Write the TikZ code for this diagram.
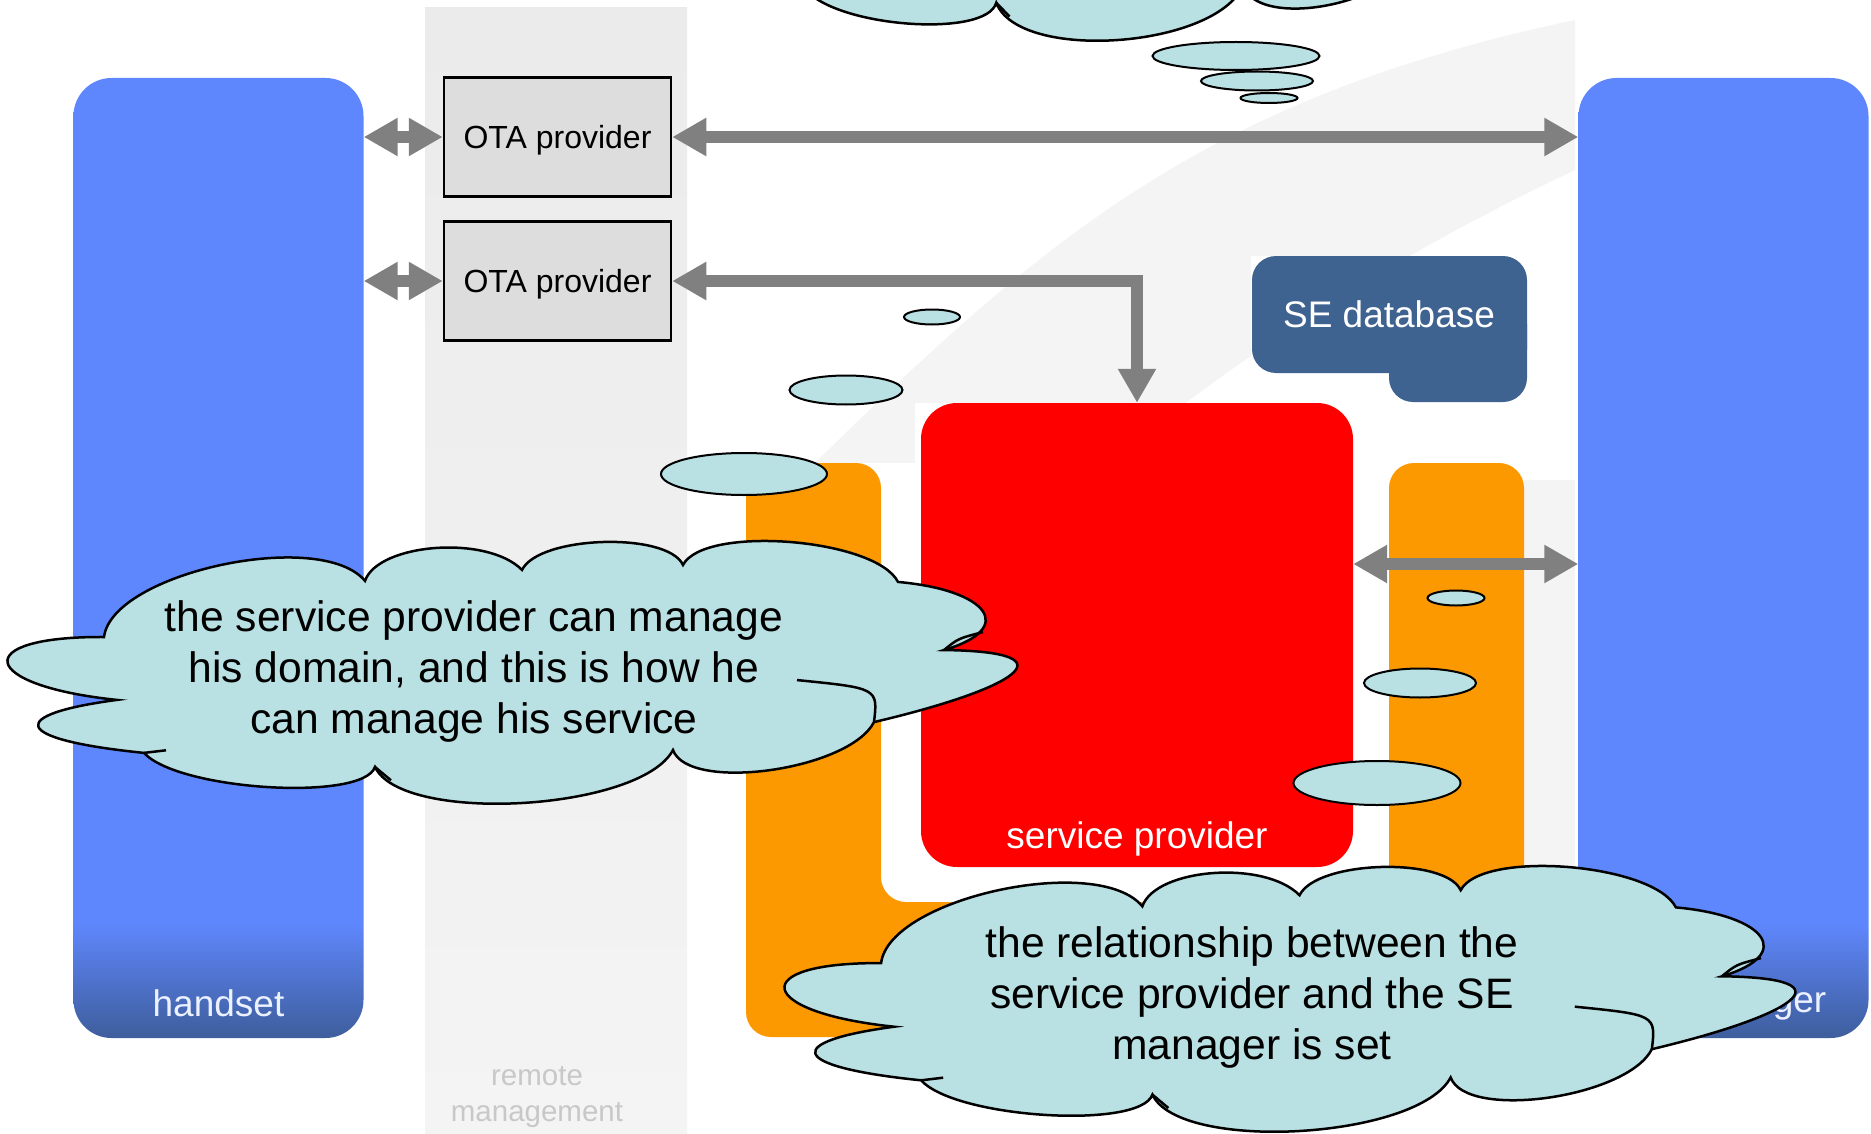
\documentclass[tikz,border=0pt]{standalone}
\usepackage{fontspec}
\setmainfont{Liberation Sans}
\usetikzlibrary{arrows.meta,shapes.geometric}
\definecolor{hsblue}{HTML}{5F87FD}
\definecolor{hsdark}{HTML}{3E5E9C}
\definecolor{remotetop}{HTML}{EBEBEB}
\definecolor{remotebot}{HTML}{F4F4F4}
\definecolor{remotetext}{HTML}{C8C8C8}
\definecolor{otagrey}{HTML}{DDDDDD}
\definecolor{arrowgrey}{HTML}{808080}
\definecolor{spred}{HTML}{FF0000}
\definecolor{sporange}{HTML}{FD9900}
\definecolor{dbblue}{HTML}{3F6391}
\definecolor{cloudfill}{HTML}{B9E0E3}
\definecolor{bgstripe}{HTML}{F4F4F4}
\pgfdeclareverticalshading{barfade}{100bp}{color(0bp)=(hsdark); color(25bp)=(hsdark); color(31bp)=(hsblue); color(100bp)=(hsblue)}
% cloud outline in a unit box (y down), puffs and inner creases
\newcommand{\cloudoutline}{(0.096,0.364)
  .. controls (0.1041,0.1178) and (0.3129,-0.0542) .. (0.357,0.149)
  .. controls (0.37,0.005) and (0.479,-0.0288) .. (0.514,0.107)
  .. controls (0.5308,-0.0249) and (0.6596,-0.0401) .. (0.675,0.088)
  .. controls (0.6958,-0.0662) and (0.8678,-0.0142) .. (0.890,0.153)
  .. controls (0.9799,0.1838) and (1.01,0.33) .. (0.936,0.414)
  .. controls (1.07,0.42) and (1.005,0.5651) .. (0.866,0.690)
  .. controls (0.8412,0.8747) and (0.6804,0.9603) .. (0.665,0.797)
  .. controls (0.6325,1.0308) and (0.3941,1.0828) .. (0.367,0.862)
  .. controls (0.3552,0.9953) and (0.1704,0.9521) .. (0.136,0.808)
  .. controls (-0.0007,0.755) and (0.0,0.66) .. (0.109,0.605)
  .. controls (-0.03,0.55) and (-0.0394,0.3608) .. (0.096,0.364) -- cycle}
\newcommand{\cloudcreases}{(0.936,0.414) .. controls (0.95,0.37) .. (0.975,0.345)
  (0.789,0.529) .. controls (0.87,0.56) .. (0.866,0.690)
  (0.136,0.808) -- (0.158,0.798)
  (0.367,0.862) -- (0.383,0.913)}
\tikzset{
  bar/.style={rounded corners=38pt, minimum width=290pt, minimum height=960pt, inner sep=0pt, shade, shading=barfade},
  barlbl/.style={text=white!88!hsblue, font=\fontsize{37}{44}\selectfont},
  otabox/.style={draw=black, line width=2.5pt, fill=otagrey, minimum width=227pt, minimum height=119pt, text depth=0pt, font=\fontsize{32}{38}\selectfont},
  whitelbl/.style={text=white, font=\fontsize{37}{44}\selectfont},
  link/.style={draw=arrowgrey, line width=12pt, {Triangle[length=34pt,width=36pt]}-{Triangle[length=34pt,width=36pt]}},
  bubble/.style={ellipse, draw=black, line width=2pt, fill=cloudfill, inner sep=0pt},
  cloudline/.style={draw=black, line width=2.5pt, fill=cloudfill},
  thoughttext/.style={align=center, font=\fontsize{42.6}{51}\selectfont}
}
\begin{document}
\begin{tikzpicture}[x=1pt, y=-1pt]
\useasboundingbox (0,0) rectangle (1871,1134);
\fill[white] (0,0) rectangle (1871,1134);
% faint background swoosh
\begin{scope}
\clip (687,0) rectangle (1575,1134);
\fill[bgstripe] (687,590) .. controls (1000,280) and (1150,110) .. (1575,20) -- (1575,170) .. controls (1300,300) and (1000,500) .. (687,900) -- cycle;
\end{scope}
\fill[bgstripe] (1524,480) rectangle (1575,1040);
\fill[white] (687,463) rectangle (1524,1134);
\fill[white] (915,403) rectangle (1356,463);
\fill[white] (1251,256) rectangle (1527,403);
% remote management band
\node[minimum width=262pt, minimum height=1126pt, inner sep=0pt, top color=remotetop, bottom color=remotebot] (remote) at (556,571) {};
\node[align=center, text=remotetext, font=\fontsize{29.5}{36}\selectfont] (remotelbl) at (537,1097) {remote\\management};
% handset and SE manager
\node[bar] (handset) at (218.5,558) {};
\node[barlbl] (handsetlbl) at ([yshift=35pt]handset.south) {handset};
\node[bar] (semanager) at (1723.5,558) {};
\node[barlbl] (semanagerlbl) at ([yshift=35pt]semanager.south) {SE manager};
% OTA providers
\node[otabox] (ota1) at (557.5,137) {OTA provider};
\node[otabox] (ota2) at (557.5,281) {OTA provider};
% service provider domain
\fill[sporange, rounded corners=25pt] (746,1037) -- (746,463) -- (881,463) -- (881,902) -- (1389,902) -- (1389,463) -- (1524,463) -- (1524,1037) -- cycle;
\node[fill=spred, rounded corners=36pt, minimum width=432pt, minimum height=464pt, inner sep=0pt] (provider) at (1137,635) {};
\node[whitelbl] (providerlbl) at ([yshift=28pt]provider.south) {service provider};
% SE database
\fill[dbblue, rounded corners=24pt] (1252,256) rectangle (1527,373);
\fill[dbblue, rounded corners=24pt] (1389,300) rectangle (1527,402);
\node[whitelbl] (sedb) at (1389,314) {SE database};
% links
\draw[link] (handset.east |- ota1.west) -- (ota1.west);
\draw[link] (ota1.east) -- (ota1.east -| semanager.west);
\draw[link] (handset.east |- ota2.west) -- (ota2.west);
\draw[link] (ota2.east) -- (ota2.east -| provider.north) -- (provider.north);
\draw[link] ([yshift=71pt]provider.east) -- ([yshift=71pt]provider.east -| semanager.west);
% thought bubbles
\node[bubble, minimum width=167pt, minimum height=28pt] (tb1) at (1236,56) {};
\node[bubble, minimum width=112pt, minimum height=19pt] (tb2) at (1257,81) {};
\node[bubble, minimum width=57pt, minimum height=10pt] (tb3) at (1269,98) {};
\node[bubble, minimum width=166pt, minimum height=42pt] (lb1) at (744,474) {};
\node[bubble, minimum width=113pt, minimum height=29pt] (lb2) at (846,390) {};
\node[bubble, minimum width=56pt, minimum height=15pt] (lb3) at (932,317) {};
\node[bubble, minimum width=167pt, minimum height=44pt] (bb1) at (1377,783) {};
\node[bubble, minimum width=112pt, minimum height=29pt] (bb2) at (1420,683) {};
\node[bubble, minimum width=57pt, minimum height=15pt] (bb3) at (1456,598) {};
% clouds
\begin{scope}[shift={(692,-230)}, x=829pt, y=-270pt]
\path[cloudline] \cloudoutline;
\draw[line width=2.5pt] \cloudcreases;
\end{scope}
\begin{scope}[shift={(8,542)}, x=1000pt, y=-261pt]
\path[cloudline] \cloudoutline;
\draw[line width=2.5pt] \cloudcreases;
\end{scope}
\node[thoughttext] (domaintext) at (474,671) {the service provider can manage\\his domain, and this is how he\\can manage his service};
\begin{scope}[shift={(785,867)}, x=1001pt, y=-264pt]
\path[cloudline] \cloudoutline;
\draw[line width=2.5pt] \cloudcreases;
\end{scope}
\node[thoughttext] (reltext) at (1252,997) {the relationship between the\\service provider and the SE\\manager is set};
\end{tikzpicture}
\end{document}
